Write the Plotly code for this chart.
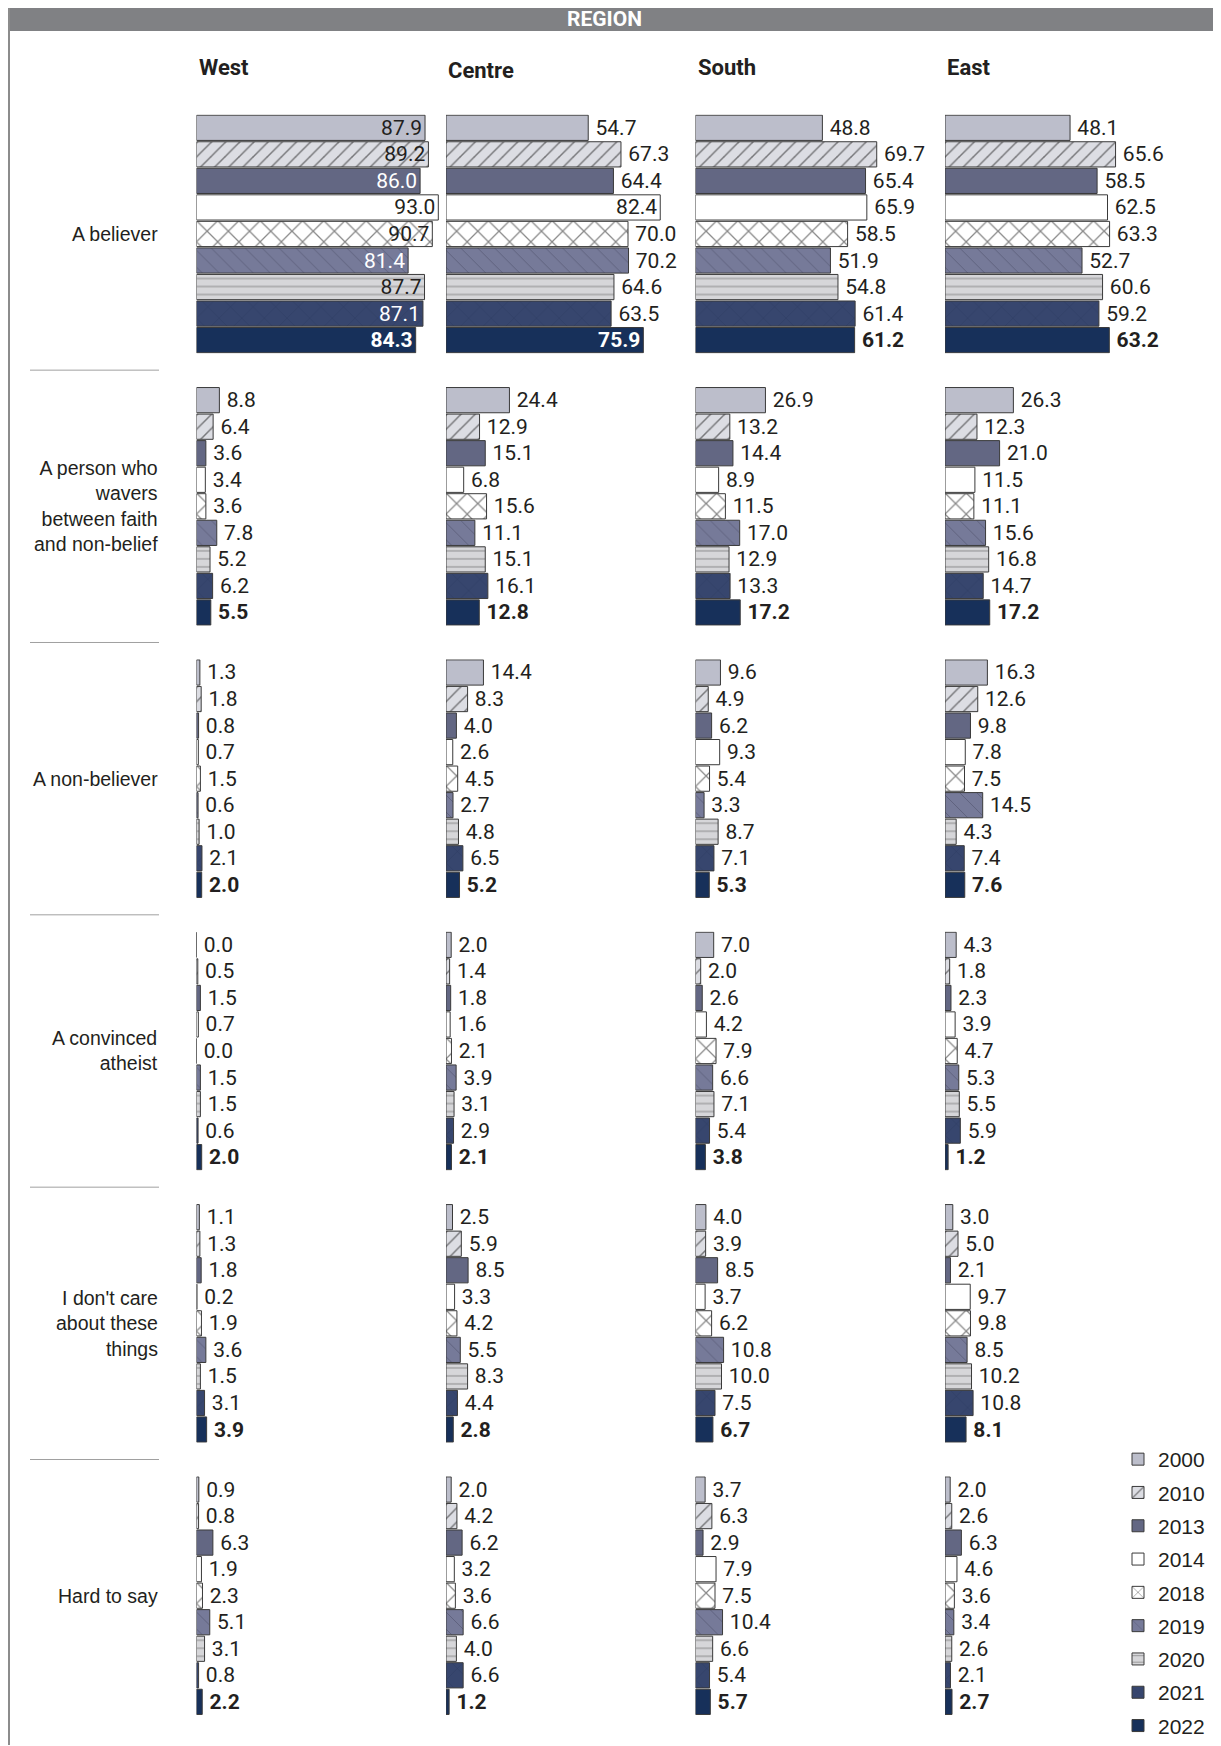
import plotly.graph_objects as go

W, H = 1221, 1746
OFF = 8  # page body margin around the plot div
FW, FH = W - OFF, H - OFF

YEARS = ["2000", "2010", "2013", "2014", "2018", "2019", "2020", "2021", "2022"]
REGIONS = ["West", "Centre", "South", "East"]
ROW_LABELS = [
    "A believer",
    "A person who<br>wavers<br>between faith<br>and non-belief",
    "A non-believer",
    "A convinced<br>atheist",
    "I don't care<br>about these<br>things",
    "Hard to say",
]

# one list per region (West, Centre, South, East), values per year
believer = [
    [87.9, 89.2, 86.0, 93.0, 90.7, 81.4, 87.7, 87.1, 84.3],
    [54.7, 67.3, 64.4, 82.4, 70.0, 70.2, 64.6, 63.5, 75.9],
    [48.8, 69.7, 65.4, 65.9, 58.5, 51.9, 54.8, 61.4, 61.2],
    [48.1, 65.6, 58.5, 62.5, 63.3, 52.7, 60.6, 59.2, 63.2],
]
waverer = [
    [8.8, 6.4, 3.6, 3.4, 3.6, 7.8, 5.2, 6.2, 5.5],
    [24.4, 12.9, 15.1, 6.8, 15.6, 11.1, 15.1, 16.1, 12.8],
    [26.9, 13.2, 14.4, 8.9, 11.5, 17.0, 12.9, 13.3, 17.2],
    [26.3, 12.3, 21.0, 11.5, 11.1, 15.6, 16.8, 14.7, 17.2],
]
non_believer = [
    [1.3, 1.8, 0.8, 0.7, 1.5, 0.6, 1.0, 2.1, 2.0],
    [14.4, 8.3, 4.0, 2.6, 4.5, 2.7, 4.8, 6.5, 5.2],
    [9.6, 4.9, 6.2, 9.3, 5.4, 3.3, 8.7, 7.1, 5.3],
    [16.3, 12.6, 9.8, 7.8, 7.5, 14.5, 4.3, 7.4, 7.6],
]
atheist = [
    [0.0, 0.5, 1.5, 0.7, 0.0, 1.5, 1.5, 0.6, 2.0],
    [2.0, 1.4, 1.8, 1.6, 2.1, 3.9, 3.1, 2.9, 2.1],
    [7.0, 2.0, 2.6, 4.2, 7.9, 6.6, 7.1, 5.4, 3.8],
    [4.3, 1.8, 2.3, 3.9, 4.7, 5.3, 5.5, 5.9, 1.2],
]
dont_care = [
    [1.1, 1.3, 1.8, 0.2, 1.9, 3.6, 1.5, 3.1, 3.9],
    [2.5, 5.9, 8.5, 3.3, 4.2, 5.5, 8.3, 4.4, 2.8],
    [4.0, 3.9, 8.5, 3.7, 6.2, 10.8, 10.0, 7.5, 6.7],
    [3.0, 5.0, 2.1, 9.7, 9.8, 8.5, 10.2, 10.8, 8.1],
]
hard_to_say = [
    [0.9, 0.8, 6.3, 1.9, 2.3, 5.1, 3.1, 0.8, 2.2],
    [2.0, 4.2, 6.2, 3.2, 3.6, 6.6, 4.0, 6.6, 1.2],
    [3.7, 6.3, 2.9, 7.9, 7.5, 10.4, 6.6, 5.4, 5.7],
    [2.0, 2.6, 6.3, 4.6, 3.6, 3.4, 2.6, 2.1, 2.7],
]
ROWS = [believer, waverer, non_believer, atheist, dont_care, hard_to_say]

# ── styles per year ──
FILL = {
    "2000": "#bcbecb", "2010": "#dcdde3", "2013": "#636783", "2014": "#ffffff",
    "2018": "#ffffff", "2019": "#767a99", "2020": "#d6d6d9", "2021": "#37466e",
    "2022": "#17305a",
}
PATTERN = {
    "2010": dict(shape="/", fgcolor="#111111", size=10, solidity=0.15),
    "2018": dict(shape="x", fgcolor="#111111", size=15, solidity=0.16),
    "2019": dict(shape="\\", fgcolor="#1a1a2a", fgopacity=0.35, size=12, solidity=0.06),
    "2020": dict(shape="-", fgcolor="#222222", fgopacity=0.45, size=8, solidity=0.12),
    "2021": dict(shape="x", fgcolor="#101d40", fgopacity=0.4, size=16, solidity=0.04),
}
DARK_FILL = {"2013", "2019", "2021", "2022"}
TXT = "#231f20"
NUM_FONT = "Roboto, Arial, sans-serif"
LBL_FONT = "Liberation Sans, Arial, sans-serif"

# ── geometry (page px) ──
COL_LEFT, COL_STEP, COL_W, PX_PER_UNIT = 196.5, 249.5, 245, 2.6
ROW_TOP, ROW_STEP, ROW_H = 114.6, 272.5, 239


def px_x(v):
    return (v - OFF) / FW


def px_y(v):
    return 1 - (v - OFF) / FH


fig = go.Figure()
layout_axes = {}

for r, region_rows in enumerate(ROWS):
    for c, vals in enumerate(region_rows):
        k = r * 4 + c + 1
        sfx = "" if k == 1 else str(k)
        for yi, year in enumerate(YEARS):
            v = vals[yi]
            inside = v > 72
            pat = PATTERN.get(year)
            marker = dict(color=FILL[year], line=dict(color="#3a3a3a", width=1))
            if pat:
                marker["pattern"] = dict(bgcolor=FILL[year], **pat)
            tcolor = "white" if (inside and year in DARK_FILL) else TXT
            label = f"{v:.1f}" if inside else f"\u2009{v:.1f}"
            fig.add_trace(go.Bar(
                x=[v], y=[year], orientation="h",
                xaxis="x" + sfx, yaxis="y" + sfx,
                name=year, legendgroup=year,
                showlegend=(k == 1),
                marker=marker,
                text=[label],
                textposition="inside" if inside else "outside",
                insidetextanchor="end",
                constraintext="none",
                cliponaxis=False,
                textfont=dict(family=NUM_FONT, size=21, color=tcolor,
                              weight="bold" if year == "2022" else "normal"),
                hovertemplate=f"{REGIONS[c]} {year}: %{{x:.1f}}<extra></extra>",
            ))
        x0 = COL_LEFT + c * COL_STEP
        y0 = ROW_TOP + r * ROW_STEP
        layout_axes["xaxis" + sfx] = dict(
            domain=[px_x(x0), px_x(x0 + COL_W)], range=[0, COL_W / PX_PER_UNIT],
            visible=False, fixedrange=True, anchor="y" + sfx,
        )
        layout_axes["yaxis" + sfx] = dict(
            domain=[px_y(y0 + ROW_H), px_y(y0)], type="category",
            categoryorder="array", categoryarray=YEARS, range=[8.5, -0.5],
            visible=False, fixedrange=True, anchor="x" + sfx,
        )

fig.update_layout(**layout_axes)

# ── frame, header bar, separators ──
shapes = [
    dict(type="rect", xref="paper", yref="paper", x0=px_x(8), x1=px_x(1217),
         y0=px_y(31), y1=1, fillcolor="#808184", line_width=0, layer="below"),
    dict(type="line", xref="paper", yref="paper", x0=px_x(9), x1=px_x(9),
         y0=0, y1=1, line=dict(color="#8c8c8c", width=2)),
    dict(type="line", xref="paper", yref="paper", x0=px_x(1217), x1=px_x(1217),
         y0=0, y1=1, line=dict(color="#8c8c8c", width=2)),
]
for r in range(len(ROWS) - 1):
    ys = ROW_TOP + r * ROW_STEP + ROW_H + (ROW_STEP - ROW_H) / 2
    shapes.append(dict(type="line", xref="paper", yref="paper",
                       x0=px_x(30), x1=px_x(159), y0=px_y(ys), y1=px_y(ys),
                       line=dict(color="#a0a0a0", width=1)))

annotations = [
    dict(text="<b>REGION</b>", x=px_x(604), y=px_y(19), xref="paper", yref="paper",
         showarrow=False, font=dict(family=NUM_FONT, size=21, color="white"),
         xanchor="center", yanchor="middle"),
]
title_y = [68, 71, 68, 68]
for c, name in enumerate(REGIONS):
    annotations.append(dict(
        text=f"<b>{name}</b>", x=px_x(COL_LEFT + c * COL_STEP), y=px_y(title_y[c]),
        xref="paper", yref="paper", showarrow=False, xanchor="left", yanchor="middle",
        font=dict(family=NUM_FONT, size=22, color=TXT),
    ))
for r, label in enumerate(ROW_LABELS):
    annotations.append(dict(
        text=label, x=px_x(160), y=px_y(ROW_TOP + r * ROW_STEP + ROW_H / 2),
        xref="paper", yref="paper", showarrow=False, xanchor="right", yanchor="middle",
        align="right", font=dict(family=LBL_FONT, size=19.5, color=TXT),
    ))

fig.update_layout(
    width=FW, height=FH,
    margin=dict(l=0, r=0, t=0, b=0),
    paper_bgcolor="white", plot_bgcolor="white",
    barmode="overlay", bargap=0.05,
    shapes=shapes, annotations=annotations,
    showlegend=True,
    legend=dict(
        x=px_x(1118), y=px_y(1440), xanchor="left", yanchor="top",
        font=dict(family=LBL_FONT, size=21, color=TXT),
        tracegroupgap=3, bgcolor="rgba(0,0,0,0)",
    ),
)

fig.write_html("out.html")
